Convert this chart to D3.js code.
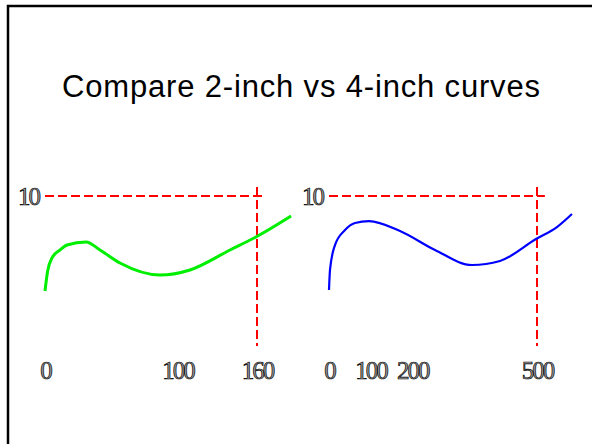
<!DOCTYPE html>
<html>
<head>
<meta charset="utf-8">
<script src="https://cdn.jsdelivr.net/npm/d3@7"></script>
<style>
  body { margin: 0; background: #fff; }
  svg { display: block; }
</style>
</head>
<body>
<div id="chart"></div>
<script>
// Curve data (x in chart units, y in chart units)
const twoInchX = [0, 2, 5.3, 11.3, 16.6, 31, 41.5, 56.6, 86.8, 109.4, 139.6, 159.2, 185.7];
const twoInchY = [3.67, 5.0, 5.87, 6.4, 6.73, 6.93, 6.4, 5.53, 4.73, 5.07, 6.4, 7.27, 8.67];
const fourInchX = [0, 2.4, 14.4, 38.5, 62.5, 96, 170.7, 254.8, 343.8, 411, 497.6, 548, 584];
const fourInchY = [3.73, 5.07, 6.73, 7.73, 8.2, 8.33, 7.67, 6.4, 5.4, 5.67, 7.13, 7.93, 8.8];

const leftTicks = [0, 100, 160];
const rightTicks = [0, 100, 200, 500];
const yTicks = [10];
const leftMarkerX = 160, rightMarkerX = 500, markerY = 10;
const title = "Compare 2-inch vs 4-inch curves";

const width = 592, height = 444;

const svg = d3.select("#chart")
    .append("svg")
    .attr("width", width)
    .attr("height", height);

// slide-like frame (left and top edge only)
svg.append("path")
    .attr("d", `M8,${height} V6 H${width}`)
    .attr("fill", "none")
    .attr("stroke", "#000")
    .attr("stroke-width", 2.5);

svg.append("text")
    .attr("x", 301)
    .attr("y", 97)
    .attr("text-anchor", "middle")
    .attr("textLength", 478)
    .style("font-family", "'Liberation Sans', Arial, sans-serif")
    .style("font-size", "31px")
    .text(title);

// shared y scale
const y = d3.scaleLinear().domain([0, 10]).range([346, 196]);

function drawPanel(opts) {
    const x = d3.scaleLinear().domain(opts.domain).range(opts.range);
    const g = svg.append("g");

    // y axis label "10"
    const yAxis = g.append("g")
        .attr("transform", `translate(${opts.range[0] - 6},0)`)
        .call(d3.axisLeft(y).tickValues(yTicks).tickSize(0).tickPadding(0));
    yAxis.select(".domain").remove();

    // x axis labels
    const xAxis = g.append("g")
        .attr("transform", "translate(0,361)")
        .call(d3.axisBottom(x).tickValues(opts.ticks).tickSize(0).tickPadding(0));
    xAxis.select(".domain").remove();

    g.selectAll(".tick text")
        .style("font-family", "'Liberation Serif', 'Times New Roman', serif")
        .style("font-size", "25px")
        .style("letter-spacing", "-2px")
        .attr("fill", "#999")
        .attr("stroke", "#000")
        .attr("stroke-width", 0.7);

    // red dashed markers
    g.append("line")
        .attr("x1", x(0)).attr("x2", x(opts.hEnd))
        .attr("y1", y(markerY)).attr("y2", y(markerY))
        .attr("stroke", "red").attr("stroke-width", 2)
        .attr("stroke-dasharray", "9,4");
    g.append("line")
        .attr("x1", x(opts.marker)).attr("x2", x(opts.marker))
        .attr("y1", y(10.6)).attr("y2", y(0))
        .attr("stroke", "red").attr("stroke-width", 2)
        .attr("stroke-dasharray", "9,4");

    const pts = opts.xs.map((v, i) => [v, opts.ys[i]]);
    const line = d3.line()
        .x(d => x(d[0]))
        .y(d => y(d[1]))
        .curve(d3.curveMonotoneX);

    g.append("path")
        .datum(pts)
        .attr("fill", "none")
        .attr("stroke", opts.color)
        .attr("stroke-width", opts.lw)
        .attr("d", line);
}

drawPanel({
    domain: [0, 160], range: [45, 257], ticks: leftTicks,
    marker: leftMarkerX, hEnd: 166,
    xs: twoInchX, ys: twoInchY, color: "#00ee00", lw: 3
});

drawPanel({
    domain: [0, 500], range: [329, 537], ticks: rightTicks,
    marker: rightMarkerX, hEnd: 519,
    xs: fourInchX, ys: fourInchY, color: "#0000ff", lw: 2.2
});
</script>
</body>
</html>
